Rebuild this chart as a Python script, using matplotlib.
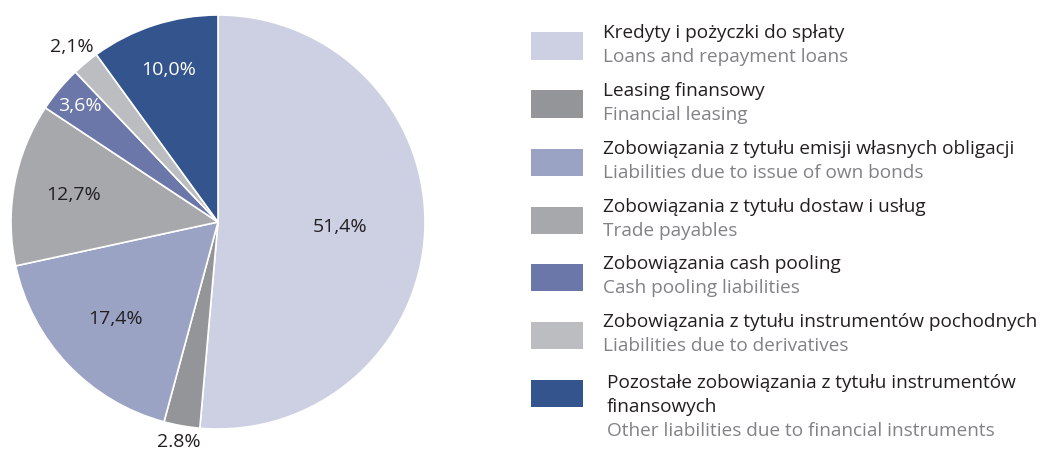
import matplotlib
matplotlib.use("Agg")
from matplotlib import pyplot as plt
from matplotlib.patches import Rectangle
import numpy as np

plt.rcParams["font.family"] = ["Open Sans", "DejaVu Sans"]

# Structure of financial liabilities (%)
shares = [51.4, 2.8, 17.4, 12.7, 3.6, 2.1, 10.0]
share_labels = ["51,4%", "2.8%", "17,4%", "12,7%", "3,6%", "2,1%", "10,0%"]
names_pl = [
    "Kredyty i pożyczki do spłaty",
    "Leasing finansowy",
    "Zobowiązania z tytułu emisji własnych obligacji",
    "Zobowiązania z tytułu dostaw i usług",
    "Zobowiązania cash pooling",
    "Zobowiązania z tytułu instrumentów pochodnych",
    "Pozostałe zobowiązania z tytułu instrumentów\nfinansowych",
]
names_en = [
    "Loans and repayment loans",
    "Financial leasing",
    "Liabilities due to issue of own bonds",
    "Trade payables",
    "Cash pooling liabilities",
    "Liabilities due to derivatives",
    "Other liabilities due to financial instruments",
]
colors = ["#cdd0e3", "#939598", "#9aa3c4", "#a7a8ab", "#6b77a8", "#bcbdc0", "#34548e"]
label_colors = ["#231f20", "#231f20", "#231f20", "#231f20", "white", "#231f20", "white"]
label_dist = [0.59, 1.08, 0.68, 0.71, 0.87, 1.1, 0.77]

fig = plt.figure(figsize=(10.45, 4.5), dpi=100)

# pie
ax = fig.add_axes([11 / 1045, 21 / 450, 414 / 1045, 414 / 450])
wedges, _ = ax.pie(shares, colors=colors, startangle=90, counterclock=False,
                   radius=1, wedgeprops=dict(edgecolor="white", linewidth=1.2))
ax.set_xlim(-1, 1)
ax.set_ylim(-1, 1)
ax.set_aspect("equal")
ax.axis("off")

for w, lab, col, d in zip(wedges, share_labels, label_colors, label_dist):
    mid = np.deg2rad((w.theta1 + w.theta2) / 2)
    ax.text(d * np.cos(mid), d * np.sin(mid), lab, ha="center", va="center",
            fontsize=14, color=col, clip_on=False)

# legend
W, H = 1045, 450
fs = 13.7
row_y = [46, 104, 162, 220, 277, 335, 393]
for i in range(len(shares)):
    y = row_y[i]
    fig.patches.append(Rectangle((531 / W, (H - y - 13.5) / H), 52 / W, 27 / H,
                                 transform=fig.transFigure, facecolor=colors[i],
                                 edgecolor="none"))
    if i < 6:
        fig.text(603 / W, (H - (y - 13)) / H, names_pl[i], fontsize=fs,
                 color="#231f20", va="center", ha="left")
        fig.text(603 / W, (H - (y + 11)) / H, names_en[i], fontsize=fs,
                 color="#808285", va="center", ha="left")
    else:
        first, second = names_pl[i].split("\n")
        fig.text(607 / W, (H - (y - 10)) / H, first,
                 fontsize=fs, color="#231f20", va="center", ha="left")
        fig.text(607 / W, (H - (y + 14)) / H, second,
                 fontsize=fs, color="#231f20", va="center", ha="left")
        fig.text(607 / W, (H - (y + 38)) / H, names_en[i], fontsize=fs,
                 color="#808285", va="center", ha="left")

fig.savefig("out.png", dpi=100, facecolor="white")
